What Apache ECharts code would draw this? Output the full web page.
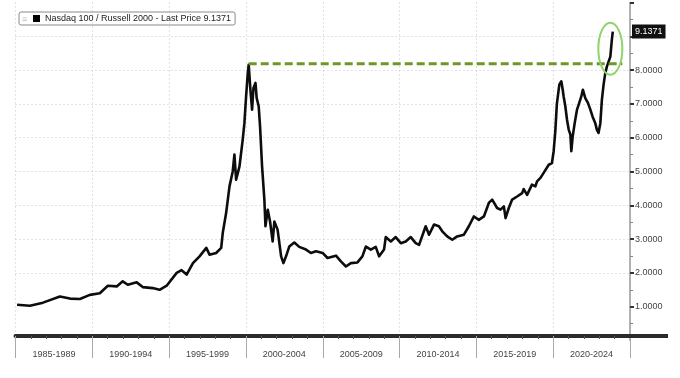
<!DOCTYPE html>
<html><head><meta charset="utf-8">
<script src="https://cdn.jsdelivr.net/npm/echarts@6/dist/echarts.min.js"></script>
<style>html,body{margin:0;padding:0;background:#fff}#c{width:680px;height:378px}</style>
</head><body><div id="c"></div>
<script>
const seriesName = 'Nasdaq 100 / Russell 2000';
const lastPrice = 9.1371;
const periodLabels = ['1985-1989','1990-1994','1995-1999','2000-2004','2005-2009','2010-2014','2015-2019','2020-2024'];
const years = [1985.10,1985.94,1986.79,1987.89,1988.54,1989.19,1989.84,1990.49,1991.01,1991.59,1991.98,1992.31,1992.89,1993.28,1993.93,1994.38,1994.84,1995.49,1995.81,1996.14,1996.55,1996.98,1997.42,1997.63,1998.06,1998.39,1998.49,1998.71,1998.93,1999.14,1999.25,1999.36,1999.58,1999.79,1999.90,2000.01,2000.12,2000.18,2000.29,2000.40,2000.49,2000.62,2000.70,2000.83,2000.92,2001.05,2001.20,2001.27,2001.42,2001.57,2001.74,2001.85,2002.06,2002.29,2002.44,2002.61,2002.82,2003.15,2003.47,2003.91,2004.23,2004.56,2004.99,2005.31,2005.86,2006.18,2006.51,2006.83,2007.26,2007.58,2007.81,2008.13,2008.45,2008.67,2008.99,2009.10,2009.43,2009.75,2010.08,2010.40,2010.73,2011.05,2011.27,2011.70,2011.92,2012.24,2012.56,2012.78,2013.10,2013.43,2013.75,2014.19,2014.51,2014.84,2015.16,2015.49,2015.81,2016.03,2016.35,2016.57,2016.79,2016.90,2017.11,2017.33,2017.65,2017.98,2018.08,2018.30,2018.62,2018.84,2018.95,2019.17,2019.38,2019.71,2019.92,2020.03,2020.14,2020.24,2020.40,2020.53,2020.62,2020.68,2020.79,2020.90,2021.01,2021.12,2021.18,2021.27,2021.40,2021.55,2021.66,2021.83,2021.93,2022.09,2022.26,2022.42,2022.56,2022.74,2022.84,2022.95,2023.07,2023.17,2023.28,2023.39,2023.50,2023.61,2023.72,2023.78,2023.82,2023.88];
const ratio = [1.06,1.03,1.12,1.30,1.24,1.23,1.35,1.40,1.62,1.60,1.75,1.65,1.72,1.58,1.55,1.50,1.62,2.00,2.08,1.95,2.29,2.49,2.74,2.54,2.59,2.74,3.18,3.77,4.56,5.00,5.50,4.76,5.15,5.94,6.43,7.22,7.91,8.16,7.42,6.83,7.47,7.62,7.17,6.93,6.33,5.15,4.17,3.38,3.87,3.52,2.93,3.52,3.28,2.49,2.29,2.49,2.78,2.90,2.77,2.69,2.59,2.64,2.59,2.44,2.51,2.34,2.19,2.29,2.31,2.49,2.78,2.69,2.77,2.49,2.69,3.06,2.93,3.06,2.88,2.93,3.06,2.88,2.83,3.38,3.13,3.43,3.38,3.23,3.08,2.98,3.08,3.13,3.38,3.67,3.57,3.67,4.07,4.17,3.92,3.87,3.97,3.62,3.92,4.17,4.26,4.36,4.48,4.31,4.61,4.56,4.71,4.81,4.96,5.20,5.25,5.60,6.20,7.00,7.57,7.67,7.42,7.22,6.93,6.53,6.24,6.09,5.60,6.04,6.43,6.83,6.98,7.22,7.42,7.17,7.03,6.83,6.63,6.43,6.24,6.14,6.43,7.12,7.57,7.91,8.11,8.06,8.40,8.70,8.90,9.1371];
const peakYears = [2000.18, 2024.5];
const peakLevel = [8.19, 8.19];
const highlightCenter = [2023.72, 8.63];
const yTickValues = [1,2,3,4,5,6,7,8,9,10];

const chart = echarts.init(document.getElementById('c'), null, {renderer:'canvas'});
const font = 'Liberation Sans, Arial, sans-serif';
const lineData = years.map((y,i)=>[y, ratio[i]]);
const peakData = peakYears.map((y,i)=>[y, peakLevel[i]]);

chart.setOption({
  animation:false,
  backgroundColor:'#fff',
  grid:{left:15.5, right:50, top:2.5, bottom:37.5},
  legend:{
    data:[seriesName], left:19, top:12, orient:'horizontal',
    borderColor:'#8a8a8a', borderWidth:1, borderRadius:2,
    padding:[2,4,2,14], itemWidth:7, itemHeight:7, itemGap:4,
    icon:'rect',
    formatter: n => n + ' - Last Price ' + lastPrice.toFixed(4),
    textStyle:{fontSize:9, color:'#222', fontFamily:font}
  },
  xAxis:{
    type:'value', min:1985, max:2025, interval:5, offset:-4.5,
    axisLine:{show:true, lineStyle:{color:'#2b2b2b', width:4}},
    axisTick:{show:true, length:22, lineStyle:{color:'#aaa', width:1}},
    minorTick:{show:true, splitNumber:5, length:3, lineStyle:{color:'#555'}},
    axisLabel:{
      formatter: v => { const i = Math.round((v-1985)/5); return periodLabels[i] || ''; },
      fontSize:9, color:'#444', fontFamily:font, margin:14, align:'center',
      padding:[0,0,0,76.8], showMaxLabel:true, showMinLabel:true
    },
    splitLine:{show:true, lineStyle:{color:'#c4c4c4', type:[1,3], width:1}}
  },
  yAxis:{
    type:'value', position:'right', min:0, max:10, interval:1,
    axisLine:{show:true, lineStyle:{color:'#9a9a9a', width:1.5}},
    axisTick:{show:true, length:4, customValues:yTickValues, lineStyle:{color:'#333', width:2}},
    minorTick:{show:true, splitNumber:2, length:3, lineStyle:{color:'#888'}},
    axisLabel:{
      formatter: v => (v>=1 && v<=8) ? v.toFixed(4) : '',
      fontSize:9, color:'#444', fontFamily:font, margin:5
    },
    splitLine:{show:true, showMaxLine:false, showMinLine:false, lineStyle:{color:'#c4c4c4', type:[1,3], width:1}}
  },
  series:[
    {
      name:seriesName, type:'line', data:lineData, showSymbol:false, symbol:'none',
      itemStyle:{color:'#000'},
      lineStyle:{color:'#0d0d0d', width:2.6, join:'round'},
      z:3,
      markLine:{
        silent:true, symbol:'none',
        lineStyle:{color:'rgba(0,0,0,0)', width:0},
        label:{show:true, position:'end', distance:2, formatter:()=>lastPrice.toFixed(4),
          backgroundColor:'#111', color:'#fff', padding:[3,3,2,3], fontSize:9, fontFamily:font},
        data:[{yAxis:lastPrice}]
      }
    },
    {
      name:'prev peak', type:'line', data:peakData, showSymbol:false, symbol:'none',
      lineStyle:{color:'#6f9628', width:3, type:[8,4]}, z:4
    }
  ]
});

function drawExtras(){
  const c = chart.convertToPixel({gridIndex:0}, highlightCenter);
  const end = chart.convertToPixel({gridIndex:0}, [2025, 0]);
  chart.setOption({graphic:[
    {type:'ellipse', shape:{cx:c[0], cy:c[1], rx:12, ry:26},
     style:{fill:'none', stroke:'#8fd36a', lineWidth:2}, z:10},
    {type:'rect', shape:{x:end[0], y:end[1]-6.5, width:38, height:4},
     style:{fill:'#2b2b2b'}, z:10},
    {type:'text', style:{x:22, y:15.5, text:'≡', fill:'#bbb', font:'9px '+font}, z:10}
  ]});
}
drawExtras();
</script>
</body></html>
